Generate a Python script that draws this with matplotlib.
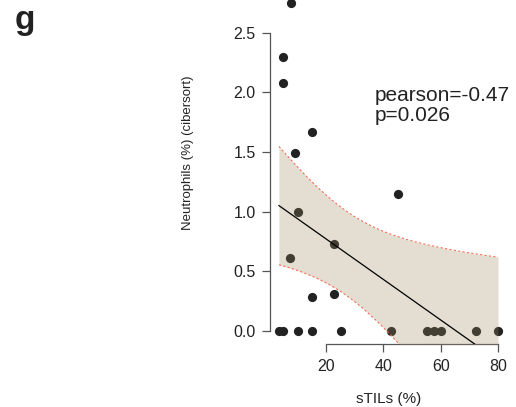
import numpy as np
import matplotlib
matplotlib.use('Agg')
import matplotlib.pyplot as plt

plt.rcParams['font.family'] = ['Liberation Sans', 'DejaVu Sans']

# ---------------------------- data ----------------------------
stils = [3.6, 5.1, 10.2, 15.2, 25.2, 42.7, 55.1, 57.7, 60.1, 72.5, 80.0,
         10.2, 7.5, 22.7, 15.2, 22.7, 45.2,
         7.7, 5.1, 5.1, 15.2, 9.3]
neutro = [0, 0, 0, 0, 0, 0, 0, 0, 0, 0, 0,
          1.0, 0.608, 0.73, 0.284, 0.306, 1.15,
          2.75, 2.297, 2.08, 1.668, 1.487]
x_ticks = [20, 40, 60, 80]
y_ticks = [0.0, 0.5, 1.0, 1.5, 2.0, 2.5]
stat_text = 'pearson=-0.47\np=0.026'
panel = 'g'

x = np.array(stils)
y = np.array(neutro)

# linear fit + 95% confidence band of the mean
slope, inter = np.polyfit(x, y, 1)
n = len(x)
resid = y - (inter + slope * x)
s = np.sqrt(np.sum(resid ** 2) / (n - 2))
sxx = np.sum((x - x.mean()) ** 2)
t = 2.086  # t quantile, df = 20
xs = np.linspace(x.min(), x.max(), 200)
fit = inter + slope * xs
half = t * s * np.sqrt(1.0 / n + (xs - x.mean()) ** 2 / sxx)

# ---------------------------------- plot ----------------------------------
fig = plt.figure(figsize=(5.16, 4.07), dpi=100)
ax = fig.add_axes([0.5236, 0.1548, 0.4585, 0.8708])

ax.scatter(x, y, s=44, color='#222222', zorder=2, linewidths=0)
ax.fill_between(xs, fit - half, fit + half, color='#9b8a5c', alpha=0.28,
                linewidth=0, zorder=3)
ax.plot(xs, fit + half, color='#f2705a', lw=0.8, ls=(0, (2, 2)), zorder=4)
ax.plot(xs, fit - half, color='#f2705a', lw=0.8, ls=(0, (2, 2)), zorder=4)
ax.plot(xs, fit, color='black', lw=0.9, zorder=5)

pad_x = 0.04 * (x.max() - x.min())
pad_y = 0.04 * (y.max() - y.min())
ax.set_xlim(x.min() - pad_x, x.max() + pad_x)
ax.set_ylim(y.min() - pad_y, y.max() + pad_y)

for side in ['top', 'right']:
    ax.spines[side].set_visible(False)
ax.spines['left'].set_bounds(0, 2.5)
ax.spines['bottom'].set_bounds(20, 80)
for side in ['left', 'bottom']:
    ax.spines[side].set_color('#555555')
    ax.spines[side].set_linewidth(0.9)

ax.set_xticks(x_ticks)
ax.set_xticklabels([str(v) for v in x_ticks])
ax.set_yticks(y_ticks)
ax.set_yticklabels(['%.1f' % v for v in y_ticks])
ax.tick_params(axis='both', direction='out', length=5.5, width=0.9, color='#555555',
               labelsize=11.5, labelcolor='#222222', pad=5)

ax.set_xlabel('sTILs (%)', fontsize=11, color='#222222', labelpad=13)
fig.text(188 / 516, 1 - 153 / 407, 'Neutrophils (%) (cibersort)', rotation=90,
         fontsize=9.5, color='#222222', ha='center', va='center')

fig.text(375 / 516, 1 - 121 / 407, stat_text, fontsize=15, color='#222222',
         ha='left', va='baseline', linespacing=1.05)
fig.text(15 / 516, 1 - 29 / 407, panel, fontsize=24, fontweight='bold',
         color='#222222', ha='left', va='baseline')

fig.savefig('out.png', dpi=100)
